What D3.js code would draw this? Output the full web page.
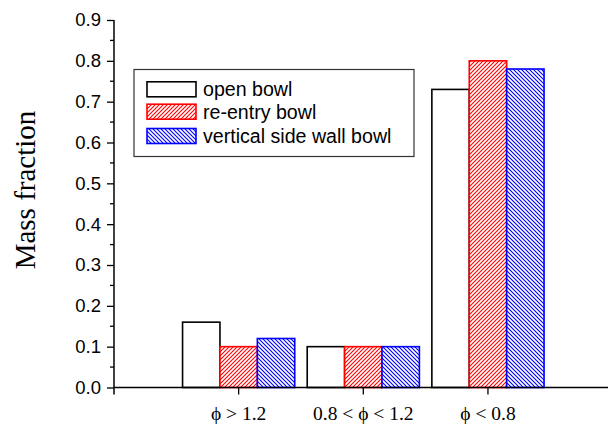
<!DOCTYPE html>
<html><head><meta charset="utf-8">
<script src="https://cdn.jsdelivr.net/npm/d3@7"></script>
<style>body{margin:0;background:#fff}svg{display:block}</style>
</head><body>
<script>
const categories = ["ϕ > 1.2", "0.8 < ϕ < 1.2", "ϕ < 0.8"];
const seriesNames = ["open bowl", "re-entry bowl", "vertical side wall bowl"];
const openBowl = [0.16, 0.10, 0.73];
const reentryBowl = [0.10, 0.10, 0.80];
const verticalBowl = [0.12, 0.10, 0.78];
const yTicks = [0.0, 0.1, 0.2, 0.3, 0.4, 0.5, 0.6, 0.7, 0.8, 0.9];

const W = 608, H = 431;
const svg = d3.select("body").append("svg").attr("width", W).attr("height", H);

const x = d3.scaleLinear().domain([0, 3.963]).range([114, 608]);
const y = d3.scaleLinear().domain([0, 0.9]).range([387.5, 20]);

const defs = svg.append("defs");
function hatch(id, color, dir) {
  const p = defs.append("pattern").attr("id", id).attr("patternUnits", "userSpaceOnUse")
    .attr("width", 4).attr("height", 4);
  p.append("rect").attr("width", 4).attr("height", 4).attr("fill", "#fff");
  const d = dir > 0 ? "M-1,1 l2,-2 M0,4 l4,-4 M3,5 l2,-2" : "M-1,3 l2,2 M0,0 l4,4 M3,-1 l2,2";
  p.append("path").attr("d", d).attr("stroke", color).attr("stroke-width", 1.1);
}
hatch("hr", "#ff0000", 1);
hatch("hb", "#0000ff", -1);

const series = [
  {name: seriesNames[0], values: openBowl, fill: "#fff", stroke: "#000"},
  {name: seriesNames[1], values: reentryBowl, fill: "url(#hr)", stroke: "#ff0000"},
  {name: seriesNames[2], values: verticalBowl, fill: "url(#hb)", stroke: "#0000ff"}
];
const bw = 0.3;

series.forEach((s, si) => {
  svg.append("g").selectAll("rect").data(s.values).join("rect")
    .attr("x", (d, i) => x(i + 1 + (si - 1) * bw - bw / 2))
    .attr("width", x(bw) - x(0))
    .attr("y", d => y(d))
    .attr("height", d => y(0) - y(d))
    .attr("fill", s.fill).attr("stroke", s.stroke).attr("stroke-width", 1.6);
});

// Y axis
const yAxis = svg.append("g").attr("transform", `translate(${x(0)},0)`)
  .call(d3.axisLeft(y).tickValues(yTicks).tickFormat(d3.format(".1f")).tickSizeOuter(0).tickSize(7).tickPadding(6));
yAxis.select(".domain").remove();
yAxis.selectAll("text").attr("font-family", "Liberation Sans, Arial, sans-serif").attr("font-size", 18.5).attr("fill", "#000");
yAxis.selectAll("line").attr("stroke-width", 1.3);
const minor = d3.range(0.05, 0.9, 0.1);
svg.append("g").selectAll("line").data(minor).join("line")
  .attr("x1", x(0) - 4).attr("x2", x(0)).attr("y1", d => y(d)).attr("y2", d => y(d))
  .attr("stroke", "#000").attr("stroke-width", 1.3);
svg.append("line").attr("x1", x(0)).attr("x2", x(0)).attr("y1", y(0.9)).attr("y2", y(0) + 7)
  .attr("stroke", "#000").attr("stroke-width", 1.5);

// X axis
svg.append("line").attr("x1", x(0)).attr("x2", W).attr("y1", y(0)).attr("y2", y(0))
  .attr("stroke", "#000").attr("stroke-width", 1.5);
const xg = svg.append("g");
categories.forEach((c, i) => {
  xg.append("line").attr("x1", x(i + 1)).attr("x2", x(i + 1)).attr("y1", y(0)).attr("y2", y(0) + 7)
    .attr("stroke", "#000").attr("stroke-width", 1.3);
  xg.append("text").attr("x", x(i + 1)).attr("y", 420).attr("text-anchor", "middle")
    .attr("font-family", "Liberation Serif, Times New Roman, serif").attr("font-size", 19.5).text(c);
});

// Y title
svg.append("text").attr("transform", "translate(35,190) rotate(-90)").attr("text-anchor", "middle")
  .attr("font-family", "Liberation Serif, Times New Roman, serif").attr("font-size", 29).text("Mass fraction");

// Legend
const lg = svg.append("g");
lg.append("rect").attr("x", 134).attr("y", 69.5).attr("width", 280).attr("height", 87)
  .attr("fill", "#fff").attr("stroke", "#333").attr("stroke-width", 1.2);
const rowY = [89.3, 111.7, 136];
series.forEach((s, i) => {
  lg.append("rect").attr("x", 147).attr("y", rowY[i] - 7.5).attr("width", 49).attr("height", 15)
    .attr("fill", s.fill).attr("stroke", s.stroke).attr("stroke-width", 1.6);
  lg.append("text").attr("x", 203).attr("y", rowY[i] + 6.8)
    .attr("font-family", "Liberation Sans, Arial, sans-serif").attr("font-size", 19.6).text(s.name);
});
</script>
</body></html>
